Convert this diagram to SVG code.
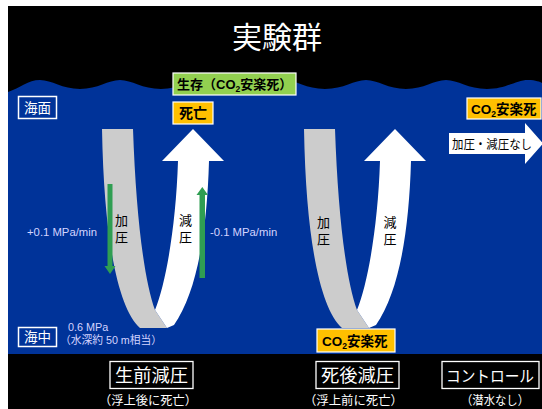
<svg xmlns="http://www.w3.org/2000/svg" xmlns:xlink="http://www.w3.org/1999/xlink" width="542" height="409" viewBox="0 0 542 409">
  <style>
    .jp { font-family: "Liberation Sans", "Noto Sans CJK JP", sans-serif; }
    .title { font-size: 30px; fill: #ffffff; }
    .tag { font-size: 13px; font-weight: bold; fill: #000000; }
    .sea-box { fill: none; stroke: #ffffff; stroke-width: 1.5; }
    .sea-txt { font-size: 13.5px; fill: #ffffff; }
    .rate { font-size: 11.3px; fill: #d4d4ff; }
    .arm-txt { font-size: 13px; fill: #000000; }
    .grp-box { fill: #000000; stroke: #ffffff; stroke-width: 1.3; }
    .grp-txt { font-size: 18.5px; fill: #ffffff; }
    .grp-sub { font-size: 12.5px; fill: #ffffff; }
    .orange { fill: #ffc000; stroke: #ffffff; stroke-width: 1.2; }
    .lime { fill: #92d050; stroke: #ffffff; stroke-width: 1.2; }
    .green-arrow { fill: #2f9e52; }
  </style>
  <defs>
    <!-- pressurise (grey, down) then decompress (white, up) -->
    <g id="u-turn">
      <path d="M102,129 L133,129 C136,215 144,280 155,310 L167,328 L140,328 C118,308 104,240 102,129 Z" fill="#cccccc"/>
      <path d="M155,310 C166,283 176,225 178,161 L162,161 L193,129 L224,161 L209,161 C207,232 197,292 174,325 L167,328 Z" fill="#ffffff"/>
    </g>
  </defs>

  <!-- background -->
  <rect x="0" y="0" width="542" height="409" fill="#ffffff"/>
  <rect x="8" y="6" width="534" height="403" fill="#000000"/>

  <!-- sea with wavy surface -->
  <path d="M8,92 C20,88 28,80 40,80 C52,80 62,89 80,89 C98,89 108,80 120,80 C132,80 142,89 161,89 C180,89 190,80 202,80 C214,80 224,89 243,89 C262,89 272,80 284,80 C296,80 306,89 325,89 C344,89 354,80 366,80 C378,80 388,89 406,89 C424,89 434,80 446,80 C458,80 468,89 487,89 C506,89 516,80 528,80 C536,80 540,82 542,83 L542,354 L8,354 Z" fill="#003399"/>

  <text class="jp title" x="277" y="48" text-anchor="middle">実験群</text>

  <!-- flows -->
  <g id="connectors">
    <use href="#u-turn"/>
    <use href="#u-turn" transform="translate(202,0)"/>
    <!-- control: no pressure change -->
    <path d="M449,133 L525,133 L525,123 L543,143.5 L525,164 L525,154 L449,154 Z" fill="#ffffff"/>
    <!-- rate indicators -->
    <path class="green-arrow" d="M107.5,184 L112.5,184 L112.5,266 L115.5,266 L110,274 L104.5,266 L107.5,266 Z"/>
    <path class="green-arrow" d="M199.5,278 L205,278 L205,195 L208,195 L202.3,187 L196.5,195 L199.5,195 Z"/>
  </g>

  <g id="arm-labels">
    <text class="jp arm-txt" x="121.5" y="225" text-anchor="middle">加</text>
    <text class="jp arm-txt" x="121.5" y="242" text-anchor="middle">圧</text>
    <text class="jp arm-txt" x="185.5" y="225" text-anchor="middle">減</text>
    <text class="jp arm-txt" x="185.5" y="242" text-anchor="middle">圧</text>
    <text class="jp arm-txt" x="323.5" y="227" text-anchor="middle">加</text>
    <text class="jp arm-txt" x="323.5" y="244" text-anchor="middle">圧</text>
    <text class="jp arm-txt" x="390" y="227" text-anchor="middle">減</text>
    <text class="jp arm-txt" x="390" y="244" text-anchor="middle">圧</text>
    <text class="jp arm-txt" x="452" y="149" style="font-size:12.5px" textLength="80" lengthAdjust="spacingAndGlyphs">加圧・減圧なし</text>
  </g>

  <g id="rates">
    <text class="jp rate" x="27" y="236">+0.1 MPa/min</text>
    <text class="jp rate" x="210" y="236">-0.1 MPa/min</text>
    <text class="jp rate" x="68" y="331" style="font-size:10.8px">0.6 MPa</text>
    <text class="jp rate" x="60" y="344" style="font-size:10.8px" textLength="102" lengthAdjust="spacingAndGlyphs">（水深約 50 m相当）</text>
  </g>

  <g id="sea-surface">
    <rect class="sea-box" x="18.5" y="96.5" width="38" height="22"/>
    <text class="jp sea-txt" x="37.5" y="113" text-anchor="middle">海面</text>
  </g>
  <g id="sea-depth">
    <rect class="sea-box" x="18.5" y="327.5" width="38" height="19"/>
    <text class="jp sea-txt" x="37.5" y="342" text-anchor="middle">海中</text>
  </g>

  <g id="survive">
    <rect class="lime" x="173" y="73" width="123" height="22"/>
    <text class="jp tag" x="177" y="89">生存（CO<tspan style="font-size:8.5px" dy="3">2</tspan><tspan dy="-3">安楽死）</tspan></text>
  </g>
  <g id="dead">
    <rect class="orange" x="173" y="102" width="40" height="22"/>
    <text class="jp tag" x="193" y="118" text-anchor="middle" style="font-size:14px">死亡</text>
  </g>
  <g id="co2-bottom">
    <rect class="orange" x="317" y="329" width="78" height="23"/>
    <text class="jp tag" x="322" y="346" style="font-size:13.5px">CO<tspan style="font-size:8.5px" dy="3">2</tspan><tspan dy="-3">安楽死</tspan></text>
  </g>
  <g id="co2-control">
    <rect class="orange" x="467" y="98" width="74" height="21"/>
    <text class="jp tag" x="471" y="114" style="font-size:13.5px">CO<tspan style="font-size:8.5px" dy="3">2</tspan><tspan dy="-3">安楽死</tspan></text>
  </g>

  <g id="group-alive">
    <rect class="grp-box" x="110" y="361.5" width="83" height="27"/>
    <text class="jp grp-txt" x="151.5" y="382" text-anchor="middle" textLength="73" lengthAdjust="spacingAndGlyphs">生前減圧</text>
    <text class="jp grp-sub" x="148" y="405" text-anchor="middle" textLength="98" lengthAdjust="spacingAndGlyphs">（浮上後に死亡）</text>
  </g>
  <g id="group-dead">
    <rect class="grp-box" x="316" y="361.5" width="83" height="27"/>
    <text class="jp grp-txt" x="357.5" y="382" text-anchor="middle" textLength="73" lengthAdjust="spacingAndGlyphs">死後減圧</text>
    <text class="jp grp-sub" x="353.5" y="405" text-anchor="middle" textLength="99" lengthAdjust="spacingAndGlyphs">（浮上前に死亡）</text>
  </g>
  <g id="group-control">
    <rect class="grp-box" x="442" y="361.5" width="97" height="27"/>
    <text class="jp grp-txt" x="490" y="381.5" text-anchor="middle" style="font-size:16px" textLength="88" lengthAdjust="spacingAndGlyphs">コントロール</text>
    <text class="jp grp-sub" x="495" y="405" text-anchor="middle" textLength="68" lengthAdjust="spacingAndGlyphs">（潜水なし）</text>
  </g>
</svg>
